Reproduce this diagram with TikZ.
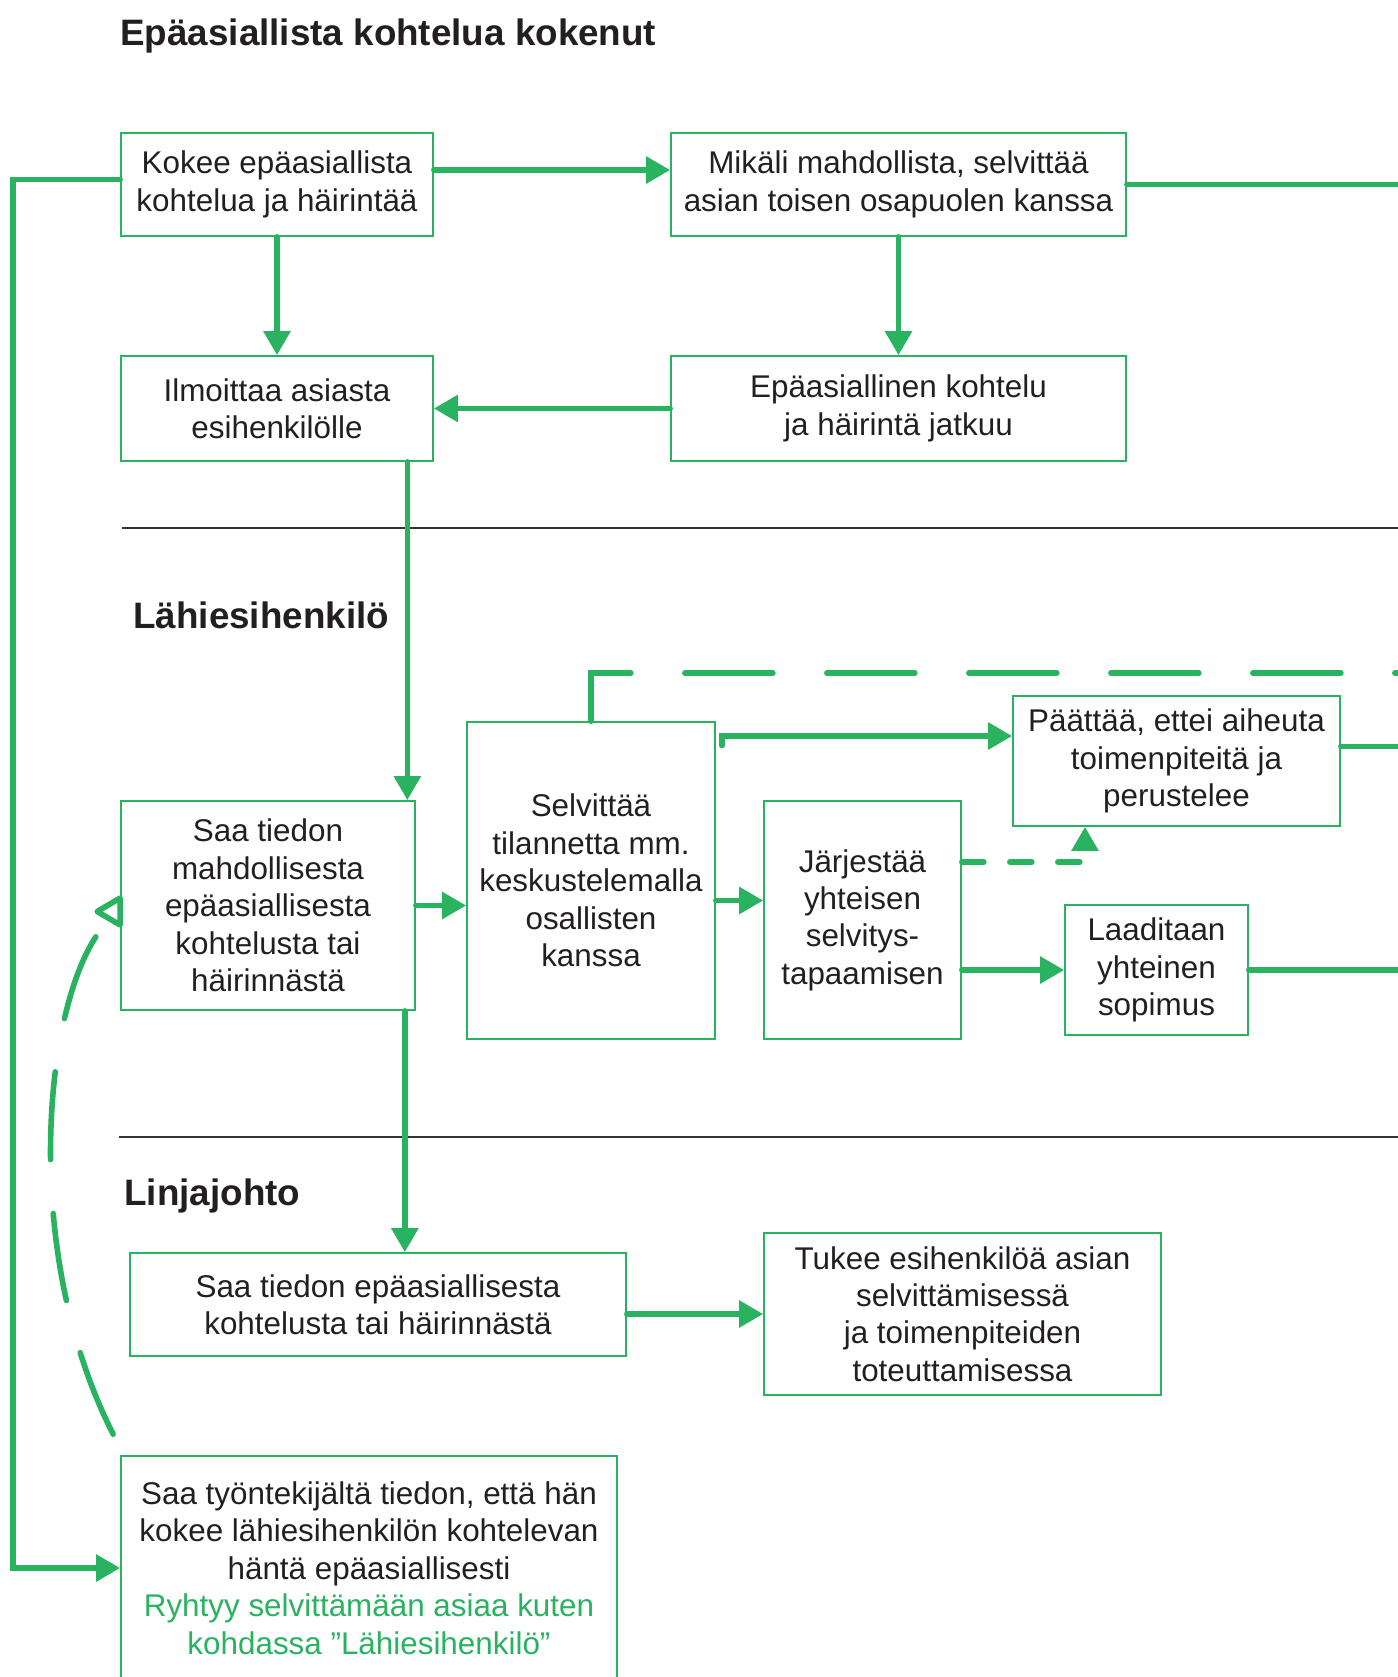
\documentclass[tikz,border=0pt]{standalone}
\usepackage{fontspec}
\setmainfont{Liberation Sans}
\usetikzlibrary{arrows.meta, calc}

\definecolor{vihrea}{RGB}{41,178,95}
\definecolor{teksti}{RGB}{35,31,32}
\definecolor{harmaa}{RGB}{51,51,51}

\tikzset{
  laatikko/.style 2 args={draw=vihrea, line width=0.85pt, text=teksti, align=center, inner sep=0pt,
    minimum width=#1, minimum height=#2, font=\fontsize{15.7}{18.7}\selectfont}, % laatikot
  otsikko/.style={anchor=base west, inner sep=0pt, text=teksti, font=\bfseries\fontsize{18.4}{22}\selectfont}, % kaistojen otsikot
  nuoli/.style={draw=vihrea, line width=2.8pt, line cap=round, -{Triangle[length=12pt,width=13pt]}}, % nuolet
  viiva/.style={draw=vihrea, line width=2.8pt, line cap=round}, % nuolettomat viivat
  katko/.style={dash pattern=on 44pt off 27pt}, % pitkä katkoviiva
  lyhytkatko/.style={dash pattern=on 11pt off 13pt}, % lyhyt katkoviiva
  erotin/.style={draw=harmaa, line width=0.75pt} % kaistojen erottimet
}

\begin{document}
\begin{tikzpicture}[x=0.5pt, y=-0.5pt]
\useasboundingbox (0,0) rectangle (1398,1677);

% otsikot ja erottimet
\node[otsikko] (kokenut) at (120,45) {Epäasiallista kohtelua kokenut};
\node[otsikko] (lahi) at (133,628) {Lähiesihenkilö};
\node[otsikko] (linjajohto) at (124,1205) {Linjajohto};
\draw[erotin] (122,528) -- (1398,528);
\draw[erotin] (119,1137) -- (1398,1137);
\coordinate (oikea) at (1400,0);
\coordinate (vasen) at (13,0);
\coordinate (katto) at (0,673);

% kokenut
\node[laatikko={156pt}{51.5pt}] (kokee) at (277,184.5) {Kokee epäasiallista\\kohtelua ja häirintää};
\node[laatikko={227.5pt}{51.5pt}] (mikali) at (898.5,184.5) {Mikäli mahdollista, selvittää\\asian toisen osapuolen kanssa};
\node[laatikko={156pt}{52.5pt}] (ilmoittaa) at (277,408.5) {Ilmoittaa asiasta\\esihenkilölle};
\node[laatikko={227.5pt}{52.5pt}] (jatkuu) at (898.5,408.5) {Epäasiallinen kohtelu\\ja häirintä jatkuu};

% lähiesihenkilö
\node[laatikko={147pt}{104.5pt}] (saa) at (268,905.5) {Saa tiedon\\mahdollisesta\\epäasiallisesta\\kohtelusta tai\\häirinnästä};
\node[laatikko={124pt}{158.5pt}] (selv) at (591,880.5) {Selvittää\\tilannetta mm.\\keskustelemalla\\osallisten\\kanssa};
\node[laatikko={98.5pt}{119pt}] (jarj) at (862.5,920) {Järjestää\\yhteisen\\selvitys-\\tapaamisen};
\node[laatikko={163.5pt}{65pt}] (paattaa) at (1176.5,761) {Päättää, ettei aiheuta\\toimenpiteitä ja\\perustelee};
\node[laatikko={91.5pt}{65pt}] (lad) at (1156.5,970) {Laaditaan\\yhteinen\\sopimus};

% linjajohto
\node[laatikko={248pt}{51.5pt}] (linja) at (378,1304.5) {Saa tiedon epäasiallisesta\\kohtelusta tai häirinnästä};
\node[laatikko={198.5pt}{81pt}] (tukee) at (962.5,1314) {Tukee esihenkilöä asian\\selvittämisessä\\ja toimenpiteiden\\toteuttamisessa};
\node[laatikko={248pt}{112pt}] (ryhtyy) at (369,1568) {Saa työntekijältä tiedon, että hän\\kokee lähiesihenkilön kohtelevan\\häntä epäasiallisesti\\\textcolor{vihrea}{Ryhtyy selvittämään asiaa kuten}\\\textcolor{vihrea}{kohdassa ”Lähiesihenkilö”}};

% nuolet
\draw[nuoli] ([yshift=7.25pt]kokee.east) -- ([yshift=7.25pt]mikali.west);
\draw[nuoli] (kokee.south) -- (ilmoittaa.north);
\draw[nuoli] (mikali.south) -- (jatkuu.north);
\draw[nuoli] (jatkuu.west) -- (ilmoittaa.east);
\draw[viiva] (mikali.east) -- (mikali.east -| oikea);
\draw[nuoli] ([yshift=2.5pt]kokee.west) -| (vasen |- ryhtyy.west) -- (ryhtyy.west);
\draw[nuoli] ([xshift=-13.25pt]ilmoittaa.south east) coordinate (a1) -- (a1 |- saa.north);
\draw[nuoli] ([xshift=-5.5pt]saa.south east) coordinate (a2) -- (a2 |- linja.north);
\draw[nuoli] (saa.east) -- (saa.east -| selv.west);
\draw[nuoli] ([yshift=-10pt]selv.east) coordinate (a3) -- (a3 -| jarj.west);
\coordinate (a4) at ([yshift=12.5pt]paattaa.west);
\draw[nuoli] (selv.east |- a4) ++(6,9.5) -- ++(0,-9.5) -- (a4);
\draw[nuoli] (jarj.east |- lad.west) -- (lad.west);
\draw[nuoli, lyhytkatko] ([yshift=29pt]jarj.east) -| ([xshift=-45.75pt]paattaa.south);
\draw[viiva, katko] (selv.north) |- (katto -| oikea);
\draw[viiva] ([yshift=7.25pt]paattaa.east) coordinate (a5) -- (a5 -| oikea);
\draw[viiva] (lad.east) -- (lad.east -| oikea);
\draw[nuoli] (linja.east |- tukee.west) -- (tukee.west);

% katkoviivainen paluu
\coordinate (karki) at ([shift={(-9pt,-11.25pt)}]saa.west);
\coordinate (kolmio) at ([shift={(-11.5pt,-3pt)}]saa.west);
\draw[viiva, katko] ([shift={(-3.5pt,10.5pt)}]ryhtyy.north west)
  .. controls +(-94,-185) and +(-58,72) .. (karki);
\draw[viiva, line join=round] (kolmio) -- ([yshift=3.75pt]saa.west) -- ([yshift=-9.75pt]saa.west) -- cycle;

\end{tikzpicture}
\end{document}
